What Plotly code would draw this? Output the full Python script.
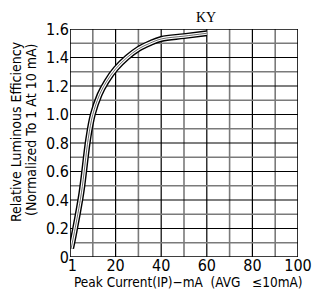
import plotly.graph_objects as go

current_ma = [0.5, 2, 5, 8, 10, 13, 16, 20, 25, 30, 35, 40, 50, 60]
rel_eff = [0.06, 0.18, 0.45, 0.83, 1.00, 1.14, 1.23, 1.32, 1.40, 1.46, 1.50, 1.53, 1.55, 1.57]

x_tick_vals = [1, 20, 40, 60, 80, 100]
x_tick_text = ["1", "20", "40", "60", "80", "100"]
y_tick_vals = [0, 0.2, 0.4, 0.6, 0.8, 1.0, 1.2, 1.4, 1.6]
y_tick_text = ["0", "0.2", "0.4", "0.6", "0.8", "1.0", "1.2", "1.4", "1.6"]
x_grid_dark = [20, 40, 60, 80]
x_grid_light = [10, 30, 50, 70, 90]
y_grid_dark = [0.2, 0.4, 0.6, 0.8, 1.0, 1.2, 1.4]
y_grid_light = [0.1, 0.3, 0.5, 0.7, 0.9, 1.1, 1.3, 1.5]

FONT = "DejaVu Sans Condensed, Liberation Sans Narrow, sans-serif"

fig = go.Figure()
fig.add_trace(go.Scatter(x=current_ma, y=rel_eff, mode="lines",
                         line=dict(color="black", width=6, shape="spline"), hoverinfo="skip"))
fig.add_trace(go.Scatter(x=current_ma, y=rel_eff, mode="lines",
                         line=dict(color="white", width=3.2, shape="spline"), hoverinfo="skip"))
fig.add_trace(go.Scatter(x=current_ma, y=rel_eff, mode="lines",
                         line=dict(color="#444", width=0.8, shape="spline"), hoverinfo="skip"))

shapes = []
for v in x_grid_light:
    shapes.append(dict(type="line", xref="x", yref="y", x0=v, x1=v, y0=0, y1=1.6,
                       line=dict(color="#7a7a7a", width=1.6), layer="below"))
for v in x_grid_dark:
    shapes.append(dict(type="line", xref="x", yref="y", x0=v, x1=v, y0=0, y1=1.6,
                       line=dict(color="black", width=1.2), layer="below"))
for v in y_grid_light:
    shapes.append(dict(type="line", xref="x", yref="y", x0=0, x1=100, y0=v, y1=v,
                       line=dict(color="#7a7a7a", width=1.6), layer="below"))
for v in y_grid_dark:
    shapes.append(dict(type="line", xref="x", yref="y", x0=0, x1=100, y0=v, y1=v,
                       line=dict(color="black", width=1.2), layer="below"))
shapes.append(dict(type="rect", xref="x", yref="y", x0=0, x1=100, y0=0, y1=1.6,
                   line=dict(color="black", width=1.6)))

# page has an 8px body margin; figure sized to fit the window
OFF = 8
W, H = 325 - OFF, 291 - OFF
PL, PR, PT, PB = 70, 298, 29, 257  # plot area in page pixels
L, R, T, B = PL - OFF, 325 - PR, PT - OFF, 291 - PB
pw, ph = PR - PL, PB - PT


def px(x):
    return (x - PL) / pw


def py(y):
    return (PB - y) / ph


def ann(text, x, y, size, family=FONT, angle=0):
    return dict(text=text, x=px(x), y=py(y), xref="paper", yref="paper",
                xanchor="center", yanchor="middle", showarrow=False, textangle=angle,
                font=dict(family=family, size=size, color="black"))


fig.update_layout(
    width=W, height=H,
    margin=dict(l=L, r=R, t=T, b=B, autoexpand=False),
    paper_bgcolor="white", plot_bgcolor="white",
    showlegend=False,
    shapes=shapes,
    xaxis=dict(range=[0, 100], tickvals=x_tick_vals, ticktext=x_tick_text,
               showgrid=False, zeroline=False, ticks="", ticklen=0, ticklabelstandoff=-3,
               tickfont=dict(family=FONT, size=16, color="black")),
    yaxis=dict(range=[0, 1.6], tickvals=y_tick_vals, ticktext=y_tick_text,
               showgrid=False, zeroline=False, ticks="", ticklen=0,
               tickfont=dict(family=FONT, size=16, color="black")),
    annotations=[
        ann("KY", 206, 18, 14, family="Liberation Serif, Times New Roman, serif"),
        ann("Peak Current(IP)\u2212mA  (AVG   \u226410mA)", 188, 282, 13.5),
        ann("Relative Luminous Efficiency", 16, 132, 14, angle=-90),
        ann("(Normalized To 1 At 10 mA)", 31, 130, 14, angle=-90),
    ],
)

fig.write_html("out.html")
